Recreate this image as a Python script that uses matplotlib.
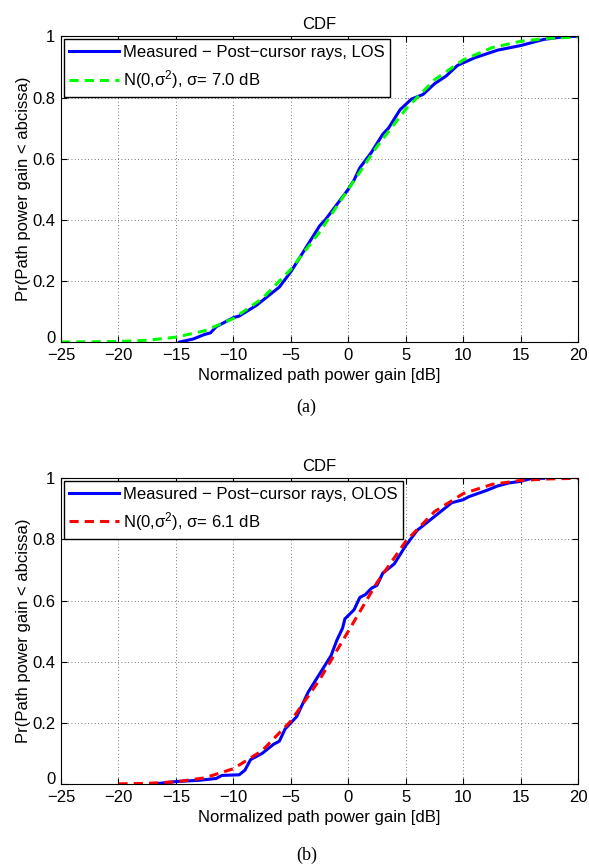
import numpy as np
import matplotlib
matplotlib.use("Agg")
import matplotlib.pyplot as plt
from matplotlib.transforms import ScaledTranslation

plt.rcParams['font.family'] = ['Liberation Sans', 'DejaVu Sans']
plt.rcParams['mathtext.fontset'] = 'custom'
plt.rcParams['mathtext.rm'] = 'Liberation Sans'
plt.rcParams['mathtext.default'] = 'regular'

# (a) LOS - measured CDF
los_x = [-14.7, -13.5, -12.5, -12, -11.5, -11, -10, -9.5, -8, -6.5, -6, -5, -4.5, -3.5,
         -2.5, -2, -1, 0, 0.5, 1, 2, 3, 3.5, 4.5, 5.5, 6.5, 7.5, 8.5, 9.5, 11, 13,
         15, 16, 17, 19, 20]
los_y = [0.0, 0.01, 0.025, 0.03, 0.05, 0.06, 0.08, 0.085, 0.12, 0.165, 0.18, 0.23, 0.26, 0.32,
         0.38, 0.40, 0.45, 0.50, 0.53, 0.57, 0.62, 0.68, 0.70, 0.76, 0.795, 0.81, 0.845, 0.87,
         0.905, 0.93, 0.955, 0.97, 0.98, 0.99, 1.0, 1.0]
# (a) LOS - normal fit, sigma = 7.0 dB
los_fit_x = [-25, -22.5, -20, -17.5, -15, -12.5, -10, -7.5, -5, -2.5, 0, 2.5, 5, 7.5,
             10, 12.5, 15, 17.5, 20]
los_fit_y = [0.0002, 0.0007, 0.002, 0.006, 0.016, 0.037, 0.077, 0.142, 0.238, 0.36, 0.5,
             0.64, 0.762, 0.858, 0.923, 0.963, 0.984, 0.994, 0.998]

# (b) OLOS - measured CDF
olos_x = [-17, -15, -13, -11.5, -11, -9.5, -9, -8.5, -7.5, -6.5, -6, -5.5, -4.5, -4, -3.5,
          -3, -2, -1.5, -1, -0.5, -0.3, 0.5, 1, 1.5, 2, 2.5, 3, 4, 5, 6, 7, 8, 9, 10,
          10.5, 12, 13, 14, 15, 16, 17]
olos_y = [0.0, 0.008, 0.012, 0.018, 0.028, 0.03, 0.045, 0.08, 0.10, 0.13, 0.14, 0.18, 0.22,
          0.26, 0.30, 0.33, 0.39, 0.42, 0.47, 0.51, 0.54, 0.57, 0.61, 0.62, 0.64, 0.65, 0.69,
          0.72, 0.78, 0.83, 0.86, 0.89, 0.92, 0.93, 0.94, 0.96, 0.975, 0.985, 0.99, 1.0, 1.0]
# (b) OLOS - normal fit, sigma = 6.1 dB
olos_fit_x = [-20, -17.5, -15, -12.5, -10, -7.5, -5, -2.5, 0, 2.5, 5, 7.5, 10, 12.5,
              15, 17.5, 20]
olos_fit_y = [0.0005, 0.002, 0.007, 0.020, 0.05, 0.109, 0.206, 0.341, 0.5, 0.659, 0.794,
              0.891, 0.95, 0.98, 0.993, 0.998, 1.0]

panels = [
    (los_x, los_y, los_fit_x, los_fit_y, '#00ff00',
     'Measured \u2212 Post\u2212cursor rays, LOS', 'N(0,\u03c3$^2$), \u03c3= 7.0 dB', '(a)'),
    (olos_x, olos_y, olos_fit_x, olos_fit_y, '#ff0000',
     'Measured \u2212 Post\u2212cursor rays, OLOS', 'N(0,\u03c3$^2$), \u03c3= 6.1 dB', '(b)'),
]

fs = 12
fig = plt.figure(figsize=(5.89, 8.66), dpi=100)
axes_pos = [[0.1036, 0.605, 0.878, 0.353], [0.1036, 0.0947, 0.878, 0.353]]
caption_y = [1 - 407 / 866, 1 - 855 / 866]

for i, (mx, my, fx, fy, fcol, lab1, lab2, cap) in enumerate(panels):
    ax = fig.add_axes(axes_pos[i])
    ax.plot(mx, my, color='#0000ff', lw=2.2, label=lab1)
    ax.plot(fx, fy, color=fcol, lw=2.2, ls=(0, (3, 2)), label=lab2)
    ax.set_xlim(-25, 20)
    ax.set_ylim(0, 1)
    ax.set_xticks(np.arange(-25, 21, 5))
    ax.set_yticks([0, 0.2, 0.4, 0.6, 0.8, 1])
    ax.set_yticklabels(['0', '0.2', '0.4', '0.6', '0.8', '1'])
    ax.grid(True, color='black', ls=(0, (1, 3)), lw=0.6, alpha=0.7)
    ax.tick_params(direction='in', top=True, right=True, labelsize=fs, length=4)
    ax.tick_params(axis='x', pad=4)
    ax.tick_params(axis='y', pad=4)
    # lift the "0" label a little so it does not run into "-25"
    zero = ax.yaxis.get_major_ticks()[0].label1
    zero.set_transform(zero.get_transform() + ScaledTranslation(0, 4 / 72, fig.dpi_scale_trans))
    ax.set_title('CDF', fontsize=fs, pad=5)
    ax.set_xlabel('Normalized path power gain [dB]', fontsize=fs, labelpad=4)
    ax.set_ylabel('Pr(Path power gain < abcissa)', fontsize=fs, labelpad=1)
    leg = ax.legend(loc='upper left', fontsize=fs, handlelength=3.0, fancybox=False,
                    framealpha=1, edgecolor='black', borderaxespad=0.15,
                    borderpad=0.35, labelspacing=0.5, handletextpad=0.2)
    leg.get_frame().set_linewidth(1.0)
    fig.text(0.52, caption_y[i], cap, ha='center', va='center',
             family='Liberation Serif', fontsize=13)

fig.savefig('out.png', dpi=100)
